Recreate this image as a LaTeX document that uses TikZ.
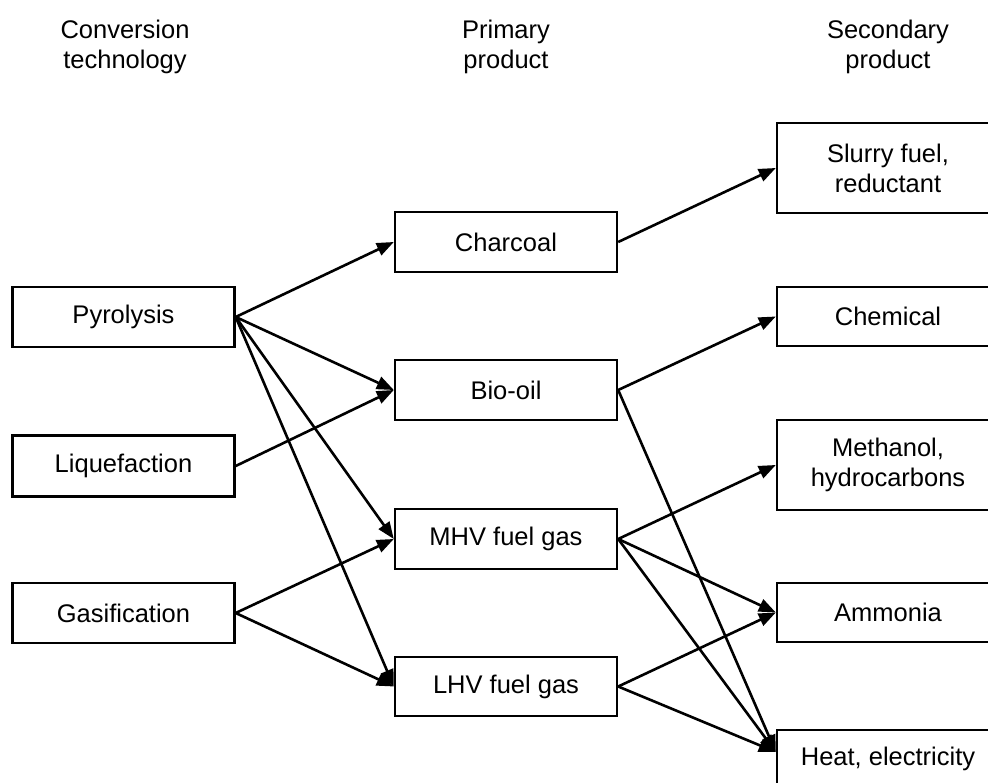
\documentclass[tikz,border=0pt]{standalone}
\usepackage{fontspec}
\setmainfont{Liberation Sans}
\usetikzlibrary{arrows.meta}
\begin{document}
\begin{tikzpicture}[x=1pt,y=-1pt,
  every node/.style={font=\fontsize{25.5}{30}\selectfont},
  box/.style={draw, line width=2.4pt, rectangle, minimum width=222pt, inner sep=0pt, align=center},
  hdr/.style={align=center, inner sep=0pt},
  arr/.style={line width=2.6pt, -{Triangle[length=17pt,width=13pt]}}]
\clip (0,0) rectangle (988,783);
\useasboundingbox (0,0) rectangle (988,783);
% headers
\node[hdr] (h1) at (125,47) {Conversion\\technology};
\node[hdr] (h2) at (506,47) {Primary\\product};
\node[hdr] (h3) at (888,47) {Secondary\\product};
% left column
\node[box, minimum height=60pt] (pyr) at (123.5,317) {Pyrolysis};
\node[box, minimum height=61pt] (liq) at (123.5,466) {Liquefaction};
\node[box, minimum height=60pt] (gas) at (123.5,613) {Gasification};
% middle column
\node[box, minimum height=60pt] (char) at (506,242) {Charcoal};
\node[box, minimum height=60pt] (bio) at (506,390) {Bio-oil};
\node[box, minimum height=60pt] (mhv) at (506,539) {MHV fuel gas};
\node[box, minimum height=59pt] (lhv) at (506,686.5) {LHV fuel gas};
% right column
\node[box, minimum height=90pt] (slur) at (888,168) {Slurry fuel,\\reductant};
\node[box, minimum height=59pt] (chem) at (888,316.5) {Chemical};
\node[box, minimum height=90pt] (meth) at (888,465) {Methanol,\\hydrocarbons};
\node[box, minimum height=59pt] (amm) at (888,612.5) {Ammonia};
\node[box, minimum height=58pt] (heat) at (888,759) {Heat, electricity};
\coordinate (heatin) at ([yshift=7pt]heat.west);
% arrows
\draw[arr] (pyr.east) -- (char.west);
\draw[arr] (pyr.east) -- (bio.west);
\draw[arr] (pyr.east) -- (mhv.west);
\draw[arr] (pyr.east) -- (lhv.west);
\draw[arr] (liq.east) -- (bio.west);
\draw[arr] (gas.east) -- (mhv.west);
\draw[arr] (gas.east) -- (lhv.west);
\draw[arr] (char.east) -- (slur.west);
\draw[arr] (bio.east) -- (chem.west);
\draw[arr] (bio.east) -- (heatin);
\draw[arr] (mhv.east) -- (meth.west);
\draw[arr] (mhv.east) -- (amm.west);
\draw[arr] (mhv.east) -- (heatin);
\draw[arr] (lhv.east) -- (amm.west);
\draw[arr] (lhv.east) -- (heatin);
\end{tikzpicture}
\end{document}
